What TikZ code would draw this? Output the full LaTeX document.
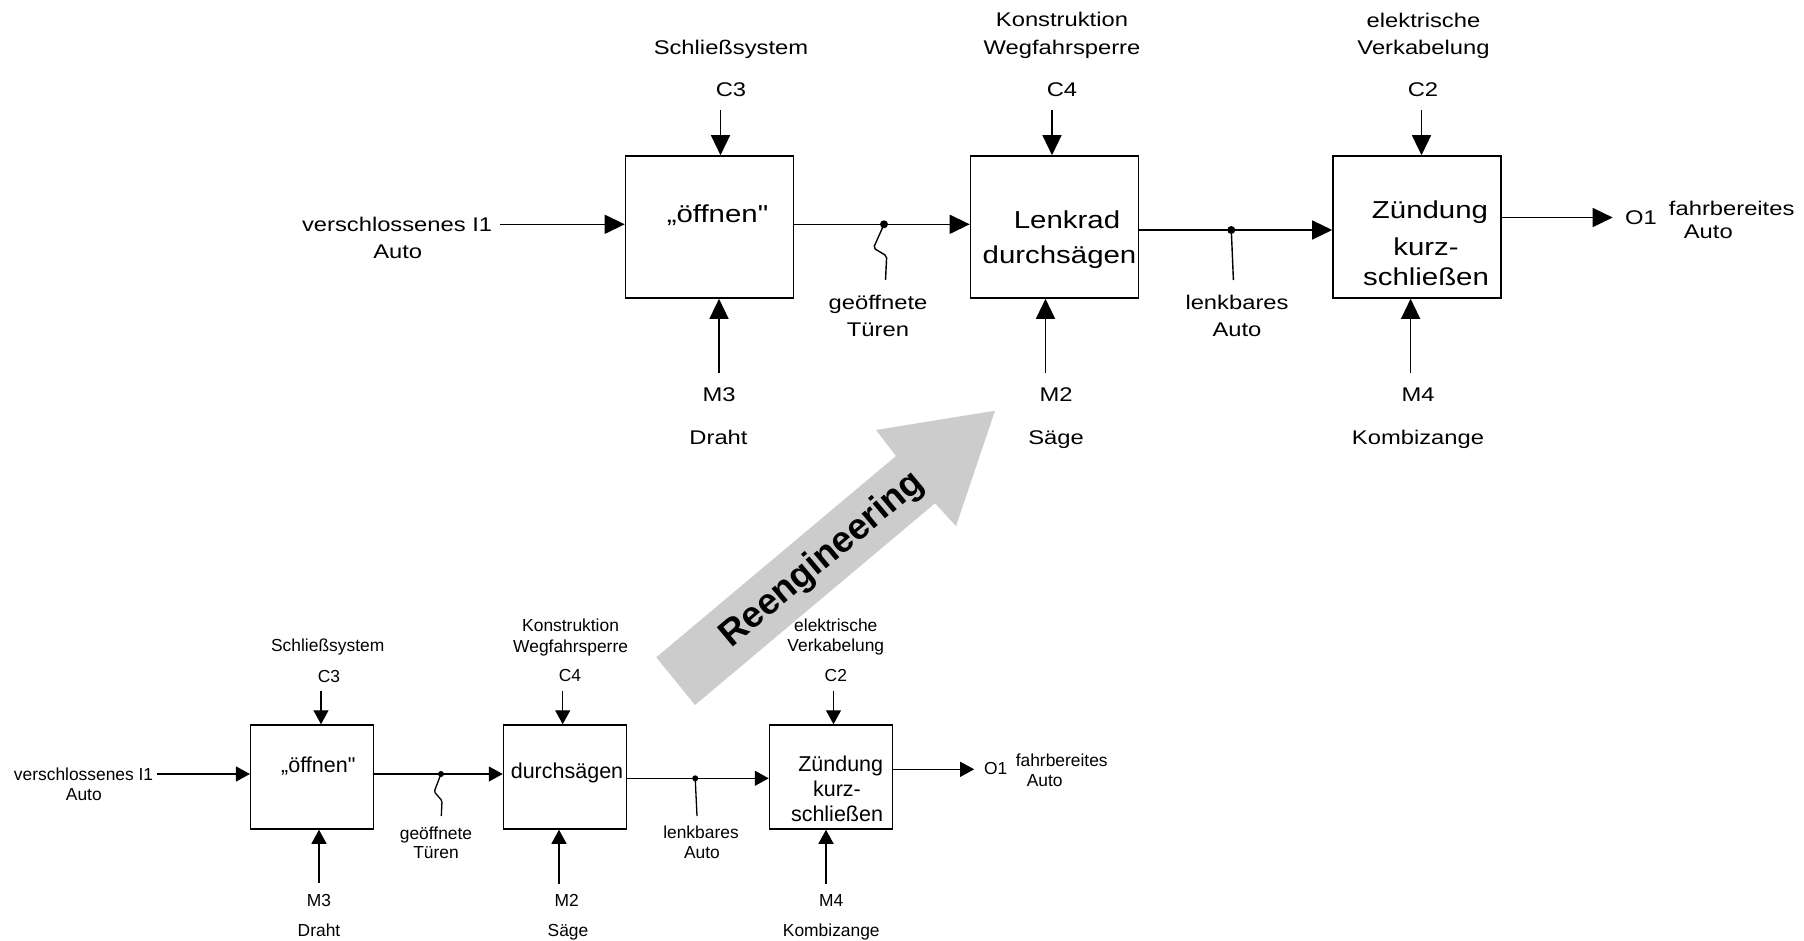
\documentclass[tikz,border=0pt]{standalone}
\usepackage{fontspec}
\usetikzlibrary{arrows.meta}
\newfontfamily\topfont[FakeStretch=1.2]{Liberation Sans}
\newfontfamily\lowfont{Liberation Sans}
\definecolor{arrowgray}{HTML}{CCCCCC}
\begin{document}
\begin{tikzpicture}[x=1pt,y=-1pt,
  % large process chain (after reengineering)
  tbox/.style={draw, line width=1.6pt, minimum width=168pt, minimum height=142pt, inner sep=0pt},
  tlbl/.style={inner sep=0pt, text height=14.2pt, text depth=0pt, font={\topfont\fontsize{19.8}{22}\selectfont}},
  ttxt/.style={inner sep=0pt, text height=17.6pt, text depth=0pt, font={\topfont\fontsize{24.5}{28}\selectfont}},
  tflow/.style={line width=1.4pt, -{Triangle[length=20pt,width=19pt]}},
  tline/.style={line width=1.4pt},
  tdot/.style={circle, fill, inner sep=0pt, minimum size=8pt},
  % small process chain (before reengineering)
  lbox/.style={draw, line width=1.5pt, minimum width=123pt, minimum height=104pt, inner sep=0pt},
  llbl/.style={inner sep=0pt, text height=12.5pt, text depth=0pt, font={\lowfont\fontsize{17.4}{20}\selectfont}},
  ltxt/.style={inner sep=0pt, text height=15.4pt, text depth=0pt, font={\lowfont\fontsize{21.5}{24}\selectfont}},
  lflow/.style={line width=1.3pt, -{Triangle[length=14pt,width=15pt]}},
  lline/.style={line width=1.3pt},
  ldot/.style={circle, fill, inner sep=0pt, minimum size=6pt}
]
\fill[white] (0,0) rectangle (1804,940);
\useasboundingbox (0,0) rectangle (1804,940);

% ---------- Reengineering arrow ----------
\fill[arrowgray] (656.3,657.3) coordinate (ra) -- (896,456) -- (876,430) -- (995,410.7)
  -- (956,526) -- (935,503.3) -- (695,705) -- cycle;
\node[rotate=40, inner sep=0pt, font={\lowfont\bfseries\fontsize{36.5}{40}\selectfont}] (reeng) at (822.5,560) {Reengineering};

% ---------- upper chain ----------
\node[tbox] (b1) at (709.5,227) {};
\node[tbox] (b2) at (1054.5,227) {};
\node[tbox] (b3) at (1417,227) {};

\node[ttxt] (t1) at (717.5,213.5) {„öffnen"};
\node[ttxt] (t2a) at (1067,219.3) {Lenkrad};
\node[ttxt] (t2b) at (1059.5,255) {durchsägen};
\node[ttxt] (t3a) at (1430,210) {Zündung};
\node[ttxt] (t3b) at (1426,246.7) {kurz-};
\node[ttxt] (t3c) at (1426,276.7) {schließen};

\node[tlbl, anchor=east] (ti1) at (492.4,224.3) {verschlossenes I1};
\node[tlbl] (ti1b) at (397.7,251.5) {Auto};
\node[tlbl] (tc3h) at (731,47.5) {Schließsystem};
\node[tlbl] (tc3) at (731,89.5) {C3};
\node[tlbl] (tm3) at (719,394.6) {M3};
\node[tlbl] (tm3h) at (718.5,437) {Draht};
\node[tlbl] (tc4h1) at (1062,19.6) {Konstruktion};
\node[tlbl] (tc4h2) at (1062,47.2) {Wegfahrsperre};
\node[tlbl] (tc4) at (1062,89.5) {C4};
\node[tlbl] (tm2) at (1056,394.6) {M2};
\node[tlbl] (tm2h) at (1056,437) {Säge};
\node[tlbl] (tc2h1) at (1423.5,20) {elektrische};
\node[tlbl] (tc2h2) at (1423.5,47.5) {Verkabelung};
\node[tlbl] (tc2) at (1423,89.5) {C2};
\node[tlbl] (tm4) at (1418,394.6) {M4};
\node[tlbl] (tm4h) at (1418,437) {Kombizange};
\node[tlbl] (tg1) at (878,302) {geöffnete};
\node[tlbl] (tg2) at (878,329.5) {Türen};
\node[tlbl] (tl1) at (1237,302) {lenkbares};
\node[tlbl] (tl2) at (1237,329.5) {Auto};
\node[tlbl] (to1) at (1641,217.5) {O1};
\node[tlbl] (to1a) at (1731.7,208) {fahrbereites};
\node[tlbl] (to1b) at (1708.3,231.7) {Auto};

\node[tdot] (td1) at (884,224.3) {};
\node[tdot] (td2) at (1231.3,230) {};

\coordinate (ti1s) at (500,224.3);
\coordinate (tc3s) at (720.5,110);
\coordinate (tm3s) at (719,373);
\coordinate (tc4s) at (1052,110);
\coordinate (tm2s) at (1045.5,373);
\coordinate (tc2s) at (1421.5,110);
\coordinate (tm4s) at (1410.6,373);
\coordinate (to1e) at (1612.7,217.5);
\coordinate (tg1e) at (885.5,280);
\coordinate (tl1e) at (1233.4,280);

\draw[tflow] (ti1s) -- (ti1s -| b1.west);
\draw[tflow] (tc3s) -- (tc3s |- b1.north);
\draw[tflow] (tm3s) -- (tm3s |- b1.south);
\draw[tflow] (td1.center -| b1.east) -- (td1.center -| b2.west);
\draw[tflow] (tc4s) -- (tc4s |- b2.north);
\draw[tflow] (tm2s) -- (tm2s |- b2.south);
\draw[tflow] (td2.center -| b2.east) -- (td2.center -| b3.west);
\draw[tflow] (tc2s) -- (tc2s |- b3.north);
\draw[tflow] (tm4s) -- (tm4s |- b3.south);
\draw[tflow] (to1e -| b3.east) -- (to1e);
\draw[tline, rounded corners=2pt] (td1.center) -- (873.5,248) -- (886.7,256) -- (tg1e);
\draw[tline] (td2.center) -- (tl1e);

% ---------- lower chain ----------
\node[lbox] (b4) at (312.2,777) {};
\node[lbox] (b5) at (565,777) {};
\node[lbox] (b6) at (831,777) {};

\node[ltxt] (u1) at (318.3,765) {„öffnen"};
\node[ltxt] (u2) at (567,770.5) {durchsägen};
\node[ltxt] (u3a) at (840.7,764) {Zündung};
\node[ltxt] (u3b) at (837,788.3) {kurz-};
\node[ltxt] (u3c) at (837,813.3) {schließen};

\node[llbl, anchor=east] (ui1) at (153.4,774) {verschlossenes I1};
\node[llbl] (ui1b) at (83.8,794.3) {Auto};
\node[llbl] (uc3h) at (327.7,645) {Schließsystem};
\node[llbl] (uc3) at (329,676) {C3};
\node[llbl] (um3) at (319,900.5) {M3};
\node[llbl] (um3h) at (319,930) {Draht};
\node[llbl] (uc4h1) at (570.6,625.5) {Konstruktion};
\node[llbl] (uc4h2) at (570.6,646) {Wegfahrsperre};
\node[llbl] (uc4) at (570,675.5) {C4};
\node[llbl] (um2) at (566.6,900.5) {M2};
\node[llbl] (um2h) at (568,930) {Säge};
\node[llbl] (uc2h1) at (835.8,625) {elektrische};
\node[llbl] (uc2h2) at (835.8,645.5) {Verkabelung};
\node[llbl] (uc2) at (835.8,675.5) {C2};
\node[llbl] (um4) at (831.3,900.5) {M4};
\node[llbl] (um4h) at (831.3,930) {Kombizange};
\node[llbl] (ug1) at (436,833.3) {geöffnete};
\node[llbl] (ug2) at (436,852.3) {Türen};
\node[llbl] (ul1) at (701,832.3) {lenkbares};
\node[llbl] (ul2) at (702,852.3) {Auto};
\node[llbl] (uo1) at (995.6,768.5) {O1};
\node[llbl] (uo1a) at (1061.7,760) {fahrbereites};
\node[llbl] (uo1b) at (1044.7,780) {Auto};

\node[ldot] (ud1) at (441,774) {};
\node[ldot] (ud2) at (695.2,778.3) {};

\coordinate (ui1s) at (157.4,774);
\coordinate (uc3s) at (321,690.7);
\coordinate (um3s) at (319,883);
\coordinate (uc4s) at (562.7,690.7);
\coordinate (um2s) at (559,884);
\coordinate (uc2s) at (833.5,690.7);
\coordinate (um4s) at (826,884);
\coordinate (uo1e) at (974.2,769.3);
\coordinate (ug1e) at (441.3,816);
\coordinate (ul1e) at (697,816);

\draw[lflow] (ui1s) -- (ui1s -| b4.west);
\draw[lflow] (uc3s) -- (uc3s |- b4.north);
\draw[lflow] (um3s) -- (um3s |- b4.south);
\draw[lflow] (ud1.center -| b4.east) -- (ud1.center -| b5.west);
\draw[lflow] (uc4s) -- (uc4s |- b5.north);
\draw[lflow] (um2s) -- (um2s |- b5.south);
\draw[lflow] (ud2.center -| b5.east) -- (ud2.center -| b6.west);
\draw[lflow] (uc2s) -- (uc2s |- b6.north);
\draw[lflow] (um4s) -- (um4s |- b6.south);
\draw[lflow] (uo1e -| b6.east) -- (uo1e);
\draw[lline, rounded corners=1.5pt] (ud1.center) -- (434.2,791.7) -- (442,800.7) -- (ug1e);
\draw[lline] (ud2.center) -- (ul1e);
\end{tikzpicture}
\end{document}
